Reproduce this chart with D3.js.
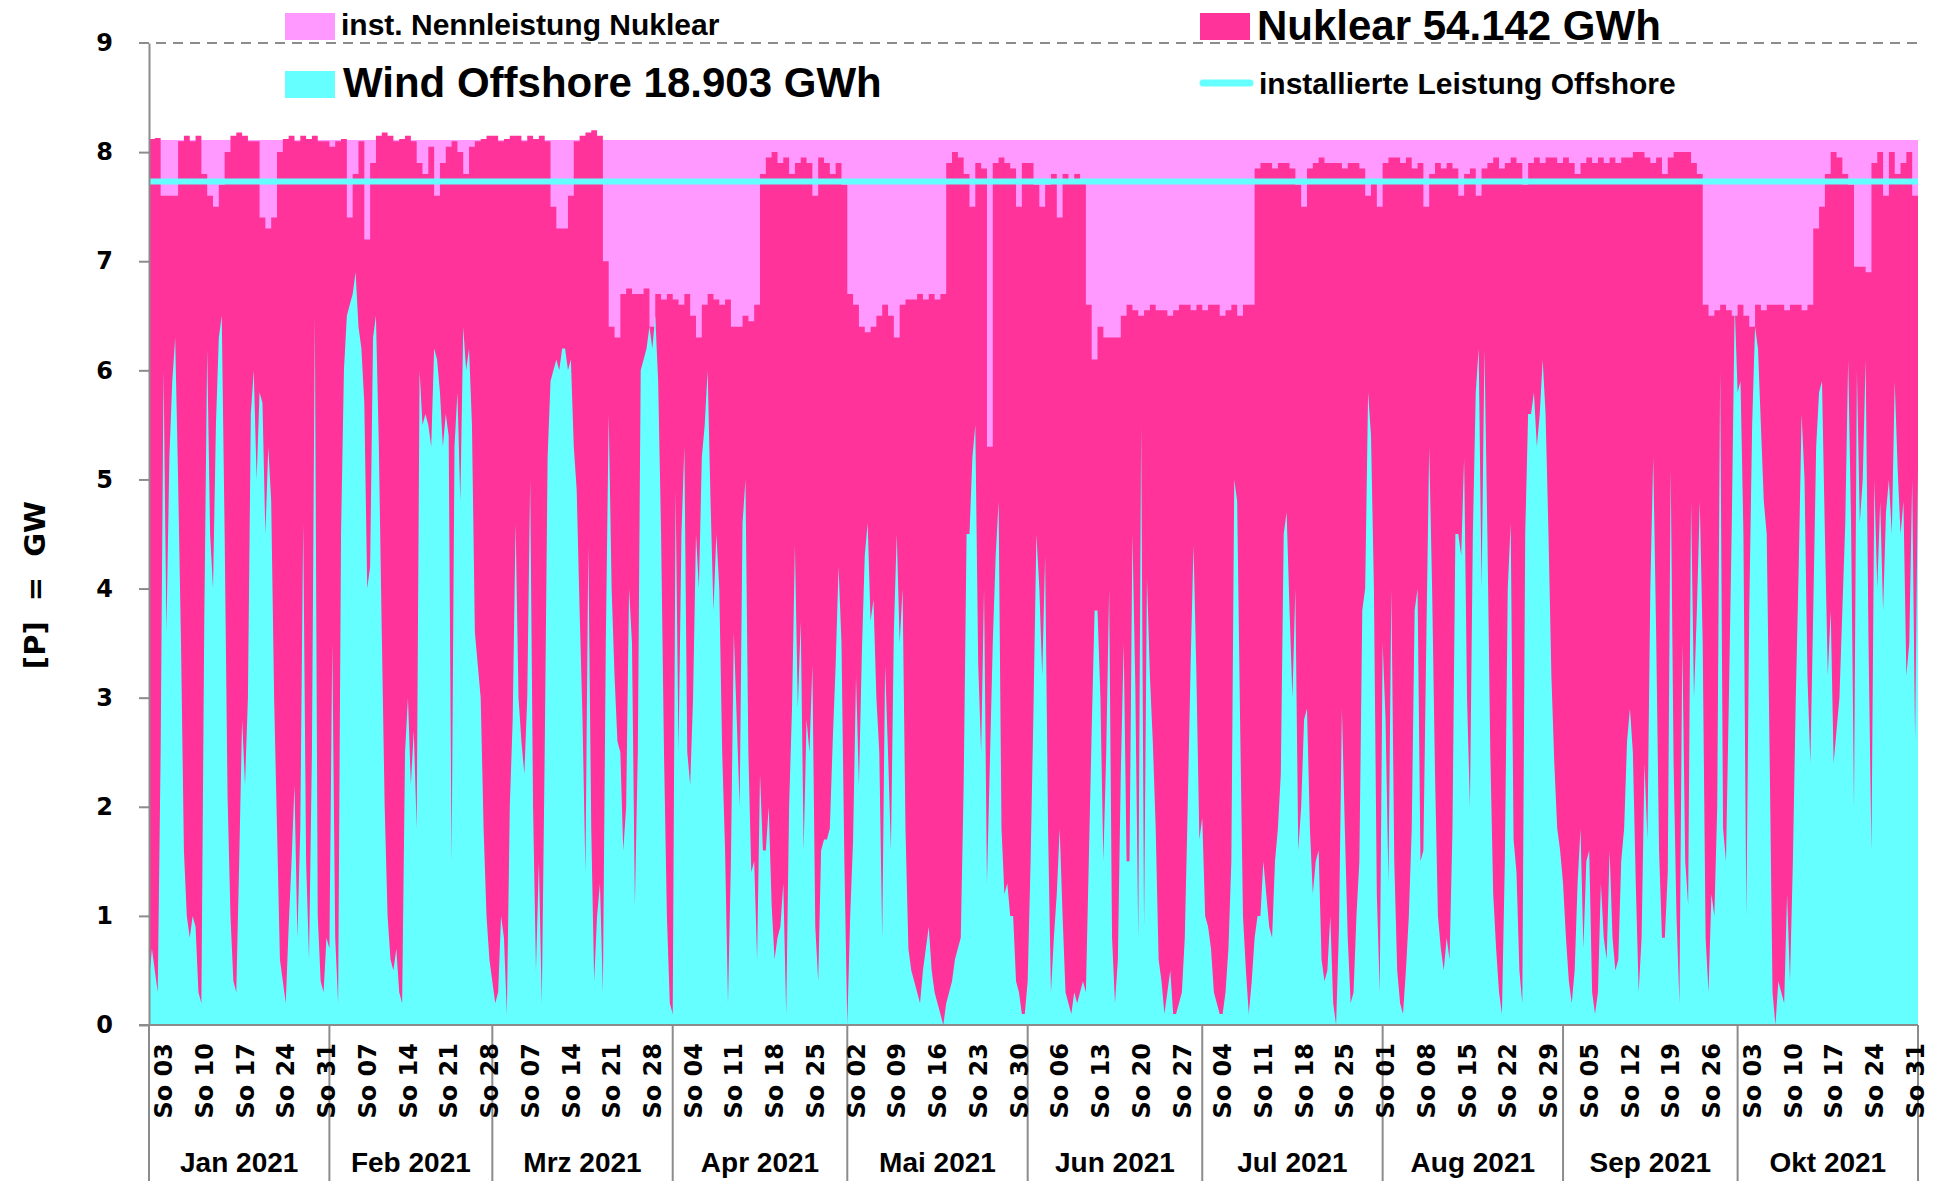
<!DOCTYPE html>
<html>
<head>
<meta charset="utf-8">
<script src="https://cdn.jsdelivr.net/npm/d3@7"></script>
<style>
body { margin: 0; background: #fff; }
.axis path, .axis line { stroke: #8c8c8c; stroke-width: 2; }
.axis text { font-family: 'DejaVu Sans', Verdana, sans-serif; font-weight: bold; font-size: 24px; fill: #000; }
.legend text, .month { font-family: 'Liberation Sans', Arial, sans-serif; font-weight: bold; fill: #000; }
</style>
</head>
<body>
<svg id="svg1" width="1941" height="1181"></svg>
<script>
// wind offshore, GW, one value every 12 hours from 01.01.2021 00:00 to 01.11.2021 00:00
var windOffshore = [
    0.4,0.7,0.5,0.3,2.5,6.0,3.6,5.2,5.9,6.3, 5.0,3.5,1.6,1.0,0.8,1.0,0.9,0.3,0.2,3.7,
    6.2,4.5,4.0,5.5,6.3,6.5,4.5,2.1,1.0,0.4, 0.3,1.5,2.8,2.2,3.0,5.6,6.0,5.0,5.8,5.7,
    4.5,5.3,4.8,3.0,1.8,0.6,0.4,0.2,0.9,1.5, 2.2,0.8,1.8,4.6,1.5,0.6,2.5,6.5,1.0,0.4,
    0.3,0.8,0.7,3.5,0.8,0.2,4.5,6.0,6.5,6.6, 6.7,6.9,6.4,6.2,5.7,4.0,4.2,6.3,6.5,5.3,
    3.6,2.0,1.0,0.6,0.5,0.7,0.3,0.2,2.5,3.0, 2.2,2.7,1.8,6.0,5.5,5.6,5.5,5.3,6.2,6.1,
    5.8,5.3,5.6,5.4,
    1.5,5.3,5.8,4.8,6.4,6.0,6.2,5.5,3.6,3.3, 3.0,1.8,1.0,0.6,0.4,0.2,0.3,1.0,0.8,0.1,
    2.0,2.8,4.6,3.0,2.6,2.3,3.0,5.0,2.0,0.5, 1.5,0.2,2.5,5.2,5.9,6.0,6.1,6.0,6.2,6.2,
    6.0,6.1,5.3,4.9,3.8,2.8,1.4,4.4,1.8,0.4, 1.0,1.3,0.3,3.5,5.6,4.0,3.2,2.6,2.5,1.6,
    2.0,4.0,3.5,1.1,2.5,6.0,6.1,6.2,6.4,6.2, 6.5,5.9,4.5,2.5,1.0,0.2,0.1,4.9,2.5,4.5,
    5.3,2.5,2.2,3.0,4.5,4.0,5.2,5.5,6.0,4.8, 3.8,4.5,4.0,2.5,1.6,0.2,1.5,3.6,2.8,2.0,
    4.6,5.0,2.5,
    1.4,1.5,0.6,2.3,1.6,1.6,2.0,1.1,0.6,0.8, 0.9,1.3,0.1,2.0,2.9,4.4,2.9,3.7,1.6,2.8,
    2.5,3.3,0.9,0.4,1.6,1.7,1.7,1.8,2.6,3.3, 4.2,3.5,1.5,0.0,1.0,1.7,3.2,2.2,3.4,4.3,
    4.6,3.7,3.9,3.0,2.5,0.8,3.3,2.5,1.6,3.6, 4.5,3.5,4.0,1.8,0.7,0.5,0.4,0.3,0.2,0.5,
    0.7,0.9,0.5,0.3,0.2,0.1,0.0,0.2,0.3,0.4, 0.6,0.7,0.8,2.2,4.5,4.5,5.2,5.5,3.3,2.5,
    4.0,1.3,2.4,3.5,4.3,4.8,1.8,1.2,1.3,1.0, 1.0,0.4,0.3,0.1,0.1,0.4,1.5,2.9,4.5,4.0,
    3.2,4.3,1.8,
    0.3,0.8,1.2,1.8,1.0,0.3,0.2,0.1,0.3,0.2, 0.3,0.4,0.3,1.5,2.7,3.8,3.8,3.0,1.5,2.5,
    4.0,0.8,0.2,0.6,2.3,3.5,1.5,1.5,4.5,3.1, 0.8,5.5,0.9,4.1,3.2,2.6,1.8,0.6,0.4,0.1,
    0.3,0.5,0.1,0.1,0.2,0.3,0.8,2.0,3.3,4.4, 3.2,1.7,1.9,1.0,0.9,0.7,0.3,0.2,0.1,0.1,
    0.3,0.7,1.5,5.0,4.8,2.8,1.0,0.5,0.1,0.4, 0.8,1.0,1.0,1.5,1.2,0.9,0.8,1.5,1.8,2.3,
    4.5,4.7,3.8,3.0,4.0,1.6,2.0,2.8,2.9,1.8, 1.2,1.5,1.6,0.6,0.4,0.5,1.0,0.2,0.0,0.9,
    2.9,1.8,0.8,0.2,0.3,1.0,1.5,3.8,4.0,5.8, 5.4,4.0,1.2,0.3,3.5,2.8,1.3,4.0,1.5,0.5,
    0.2,0.1,0.5,1.0,1.8,3.8,4.0,1.5,1.6,3.5, 5.3,4.0,2.3,1.0,0.7,0.5,0.8,0.6,1.8,4.5,
    4.5,4.3,5.2,3.0,2.0,4.5,5.8,6.2,4.0,6.2, 4.5,2.5,1.2,0.7,0.3,0.1,1.5,4.0,4.6,1.7,
    1.4,0.5,0.2,4.5,5.6,5.6,5.8,5.3,5.6,6.1, 5.6,4.5,3.2,2.4,1.8,1.6,1.3,0.8,0.4,0.2,
    0.5,1.3,1.8,0.7,1.5,1.6,0.3,0.1,0.3,1.3, 0.8,0.6,1.6,0.8,0.5,0.6,1.5,1.8,2.6,2.9,
    2.5,1.3,0.3,
    0.8,2.4,1.7,4.0,5.2,3.6,1.6,
    0.8,0.8,1.4,5.1,2.4,1.0,0.2,3.5,1.5,1.1, 4.8,3.0,3.8,4.8,3.5,0.8,0.3,1.2,1.0,2.0,
    6.0,1.8,1.5,3.0,4.6,6.6,5.8,5.9,4.5,1.0, 3.8,5.5,6.4,6.2,5.5,4.8,4.5,2.5,0.3,0.0,
    0.4,0.3,0.2,1.2,0.4,1.5,3.0,4.2,5.6,5.0, 3.2,2.4,3.8,5.3,5.8,5.9,4.5,3.2,3.8,2.4,
    2.7,3.0,3.8,4.6,6.1,4.6,2.0,6.0,4.6,5.0, 6.1,3.5,1.6,5.0,4.0,4.8,3.8,4.7,5.0,4.5,
    5.9,5.1,4.5,4.8,3.2,3.5,5.0,2.6,5.1
];

// nuklear, GW, one value per day from 01.01.2021 to 01.11.2021
var nuklear = [
    8.12,8.13,7.6,7.6,7.6,8.1,8.15,8.1,8.15,7.8, 7.6,7.5,7.7,8.0,8.15,8.18,8.15,8.1,8.1,7.4,
    7.3,7.4,8.0,8.12,8.15,8.1,8.15,8.12,8.15,8.1, 8.1,
    8.05,8.1,8.12,7.4,7.8,8.1,7.2,7.9,8.15,8.18, 8.15,8.1,8.12,8.15,8.1,7.9,7.8,8.05,7.6,7.9,
    8.05,8.1,8.0,7.8,8.05,8.1,8.12,8.15,
    8.15,8.1,8.12,8.15,8.15,8.1,8.15,8.12,8.15,8.1, 7.5,7.3,7.3,7.6,8.1,8.15,8.18,8.2,8.15,7.0,
    6.4,6.3,6.7,6.75,6.7,6.7,6.75,6.4,6.7,6.65, 6.7,
    6.65,6.6,6.7,6.5,6.3,6.6,6.7,6.65,6.6,6.65, 6.4,6.4,6.5,6.45,6.6,7.8,7.95,8.0,7.9,7.95,
    7.8,7.9,7.95,7.9,7.6,7.95,7.9,7.8,7.9,7.7,
    6.7,6.6,6.4,6.35,6.4,6.5,6.6,6.5,6.3,6.6, 6.65,6.65,6.7,6.65,6.7,6.65,6.7,7.9,8.0,7.95,
    7.8,7.5,7.9,7.85,5.3,7.9,7.95,7.9,7.85,7.5, 7.9,
    7.9,7.7,7.5,7.7,7.8,7.4,7.8,7.75,7.8,7.75, 6.6,6.1,6.4,6.3,6.3,6.3,6.5,6.6,6.55,6.5,
    6.55,6.6,6.55,6.55,6.5,6.55,6.6,6.6,6.55,6.6,
    6.55,6.6,6.6,6.5,6.55,6.6,6.5,6.6,6.6,7.85, 7.9,7.9,7.85,7.9,7.9,7.85,7.7,7.5,7.85,7.9,
    7.95,7.9,7.9,7.9,7.85,7.9,7.9,7.85,7.6,7.75, 7.5,
    7.9,7.95,7.95,7.9,7.95,7.85,7.9,7.5,7.8,7.9, 7.85,7.9,7.85,7.6,7.8,7.85,7.6,7.85,7.9,7.95,
    7.85,7.9,7.95,7.9,7.7,7.9,7.95,7.9,7.95,7.95, 7.9,
    7.95,7.9,7.8,7.9,7.95,7.9,7.95,7.9,7.95,7.9, 7.95,7.95,8.0,8.0,7.95,7.9,7.95,7.8,7.95,8.0,
    8.0,8.0,7.9,7.8,6.6,6.5,6.55,6.6,6.55,6.5,
    6.6,6.5,6.4,6.6,6.55,6.6,6.6,6.6,6.55,6.6, 6.6,6.55,6.6,7.3,7.5,7.8,8.0,7.95,7.8,7.7,
    6.95,6.95,6.9,7.9,8.0,7.6,8.0,7.8,7.9,8.0, 7.6,
    7.3
];

var instNuklear = [8.11];
var instOffshore = [7.73];

var yTicks = [0, 1, 2, 3, 4, 5, 6, 7, 8, 9];
var monthLabels = ['Jan 2021', 'Feb 2021', 'Mrz 2021', 'Apr 2021', 'Mai 2021', 'Jun 2021',
    'Jul 2021', 'Aug 2021', 'Sep 2021', 'Okt 2021'];

var legendItems = [
    {label: 'inst. Nennleistung Nuklear', color: '#ff99ff', type: 'rect', x: 285, y: 13, size: 30, tx: 341, ty: 35},
    {label: 'Wind Offshore 18.903 GWh', color: '#66ffff', type: 'rect', x: 285, y: 71, size: 42, tx: 343, ty: 97},
    {label: 'Nuklear 54.142 GWh', color: '#ff3399', type: 'rect', x: 1200, y: 13, size: 42, tx: 1257, ty: 40},
    {label: 'installierte Leistung Offshore', color: '#66ffff', type: 'line', x: 1200, y: 83, size: 30, tx: 1259, ty: 94}
];

var svg = d3.select('#svg1');
var svgWidth = +svg.attr('width');
var svgHeight = +svg.attr('height');

var padding = {t: 43, r: 23, b: 156, l: 149};

var start = new Date(Date.UTC(2021, 0, 1));
var end = new Date(Date.UTC(2021, 10, 1));
var hour = 3600 * 1000;

var xScale = d3.scaleUtc().domain([start, end]).range([padding.l, svgWidth - padding.r]);
var yScale = d3.scaleLinear().domain([0, 9]).range([svgHeight - padding.b, padding.t]);

var windData = windOffshore.map(function(v, i) {
    return {t: new Date(start.getTime() + i * 12 * hour), v: v};
});
var nukData = nuklear.map(function(v, i) {
    return {t: new Date(start.getTime() + i * 24 * hour), v: v};
});

var area = d3.area()
    .x(function(d) { return xScale(d.t); })
    .y0(yScale(0))
    .y1(function(d) { return yScale(d.v); });

var plot = svg.append('g');

// installed nuclear capacity
plot.append('path')
    .datum([{t: start, v: instNuklear[0]}, {t: end, v: instNuklear[0]}])
    .attr('d', area)
    .style('fill', '#ff99ff');

plot.append('path')
    .datum(nukData)
    .attr('d', area.curve(d3.curveStepAfter))
    .style('fill', '#ff3399');

plot.append('path')
    .datum(windData)
    .attr('d', area.curve(d3.curveLinear))
    .style('fill', '#66ffff');

plot.append('line')
    .attr('x1', xScale(start))
    .attr('x2', xScale(end))
    .attr('y1', yScale(instOffshore[0]))
    .attr('y2', yScale(instOffshore[0]))
    .style('stroke', '#66ffff')
    .style('stroke-width', 6);

// top grid line at 9
svg.append('line')
    .attr('x1', padding.l - 10)
    .attr('x2', xScale(end))
    .attr('y1', yScale(9))
    .attr('y2', yScale(9))
    .style('stroke', '#8c8c8c')
    .style('stroke-width', 2)
    .style('stroke-dasharray', '10,7');

var yAxis = d3.axisLeft(yScale).tickValues(yTicks).tickSize(10).tickSizeOuter(0).tickPadding(26)
    .tickFormat(d3.format('d'));

svg.append('g')
    .attr('class', 'axis')
    .attr('transform', 'translate(' + [padding.l, 0] + ')')
    .call(yAxis)
    .selectAll('.tick')
    .filter(function(d) { return d == 9; })
    .select('line').remove();

svg.append('text')
    .attr('transform', 'translate(' + [35, 585] + ') rotate(-90)')
    .attr('text-anchor', 'middle')
    .attr('dy', '0.35em')
    .style('font-family', "'DejaVu Sans', Verdana, sans-serif")
    .style('font-weight', 'bold')
    .style('font-size', '29px')
    .style('white-space', 'pre')
    .text('[P]  =  GW');

// x axis
var xAxisG = svg.append('g').attr('class', 'axis');

xAxisG.append('line')
    .attr('x1', padding.l - 10)
    .attr('x2', xScale(end))
    .attr('y1', yScale(0))
    .attr('y2', yScale(0));

var months = d3.utcMonth.range(start, end);
var monthEdges = months.concat([end]);

xAxisG.selectAll('.sep')
    .data(monthEdges)
    .enter()
    .append('line')
    .attr('class', 'sep')
    .attr('x1', function(d) { return xScale(d); })
    .attr('x2', function(d) { return xScale(d); })
    .attr('y1', yScale(0))
    .attr('y2', svgHeight);

var sundays = d3.utcSunday.range(start, end);
var dayFmt = d3.utcFormat('%d');

xAxisG.selectAll('.sun')
    .data(sundays)
    .enter()
    .append('text')
    .attr('class', 'sun')
    .attr('transform', function(d) {
        return 'translate(' + [xScale(new Date(d.getTime() + 12 * hour)), yScale(0) + 18] + ') rotate(-90)';
    })
    .attr('text-anchor', 'end')
    .attr('dy', '0.36em')
    .text(function(d) { return 'So ' + dayFmt(d); });

svg.selectAll('.month')
    .data(months)
    .enter()
    .append('text')
    .attr('class', 'month')
    .attr('x', function(d, i) { return (xScale(d) + xScale(monthEdges[i + 1])) / 2; })
    .attr('y', 1172)
    .attr('text-anchor', 'middle')
    .style('font-size', '28px')
    .text(function(d, i) { return monthLabels[i]; });

// legend
var legend = svg.append('g').attr('class', 'legend');

legendItems.forEach(function(d) {
    if (d.type == 'rect') {
        legend.append('rect')
            .attr('x', d.x)
            .attr('y', d.y)
            .attr('width', 50)
            .attr('height', 27)
            .style('fill', d.color);
    } else {
        legend.append('line')
            .attr('x1', d.x + 3)
            .attr('x2', d.x + 50)
            .attr('y1', d.y)
            .attr('y2', d.y)
            .style('stroke', d.color)
            .style('stroke-width', 7)
            .style('stroke-linecap', 'round');
    }
    legend.append('text')
        .attr('x', d.tx)
        .attr('y', d.ty)
        .style('font-size', d.size + 'px')
        .text(d.label);
});
</script>
</body>
</html>
